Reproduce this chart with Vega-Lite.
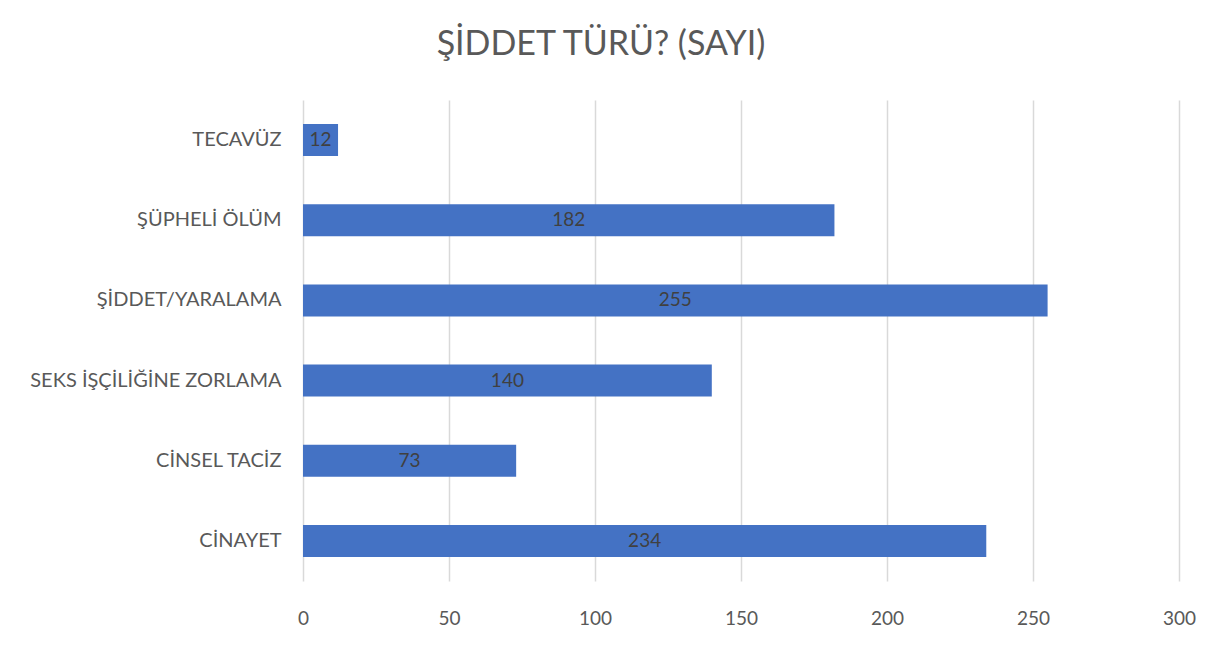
{
  "$schema": "https://vega.github.io/schema/vega-lite/v6.json",
  "autosize": {"type": "none"},
  "padding": {"left": 303, "top": 100, "right": 52, "bottom": 65},
  "width": 876,
  "height": 481,
  "background": "white",
  "title": {
    "text": "ŞİDDET TÜRÜ? (SAYI)",
    "font": "Lato",
    "fontSize": 34,
    "fontWeight": "normal",
    "color": "#595959",
    "anchor": "middle",
    "dx": -140,
    "offset": 38
  },
  "data": {
    "values": [
      {"tur": "TECAVÜZ", "sayi": 12},
      {"tur": "ŞÜPHELİ ÖLÜM", "sayi": 182},
      {"tur": "ŞİDDET/YARALAMA", "sayi": 255},
      {"tur": "SEKS İŞÇİLİĞİNE ZORLAMA", "sayi": 140},
      {"tur": "CİNSEL TACİZ", "sayi": 73},
      {"tur": "CİNAYET", "sayi": 234}
    ]
  },
  "encoding": {
    "y": {
      "field": "tur",
      "type": "nominal",
      "sort": null,
      "scale": {"paddingInner": 0.6, "paddingOuter": 0.3},
      "axis": {
        "title": null,
        "domain": false,
        "ticks": false,
        "labelFont": "Lato",
        "labelFontSize": 20,
        "labelColor": "#595959",
        "labelPadding": 22,
        "labelLimit": 400
      }
    }
  },
  "layer": [
    {
      "mark": {"type": "bar", "color": "#4472C4"},
      "encoding": {
        "x": {
          "field": "sayi",
          "type": "quantitative",
          "scale": {"domain": [0, 300]},
          "axis": {
            "title": null,
            "values": [0, 50, 100, 150, 200, 250, 300],
            "domain": false,
            "ticks": false,
            "grid": true,
            "gridColor": "#d9d9d9",
            "gridWidth": 1.5,
            "labelFont": "Lato",
            "labelFontSize": 19,
            "labelColor": "#595959",
            "labelPadding": 28,
            "labelFlush": false
          }
        }
      }
    },
    {
      "mark": {"type": "text", "font": "Lato", "fontSize": 19, "color": "#404040", "baseline": "middle", "align": "center"},
      "encoding": {
        "x": {"field": "sayi", "type": "quantitative", "scale": {"domain": [0, 600]}, "axis": null},
        "text": {"field": "sayi", "type": "quantitative"}
      }
    }
  ],
  "resolve": {"scale": {"x": "independent"}},
  "config": {"view": {"stroke": null}}
}
